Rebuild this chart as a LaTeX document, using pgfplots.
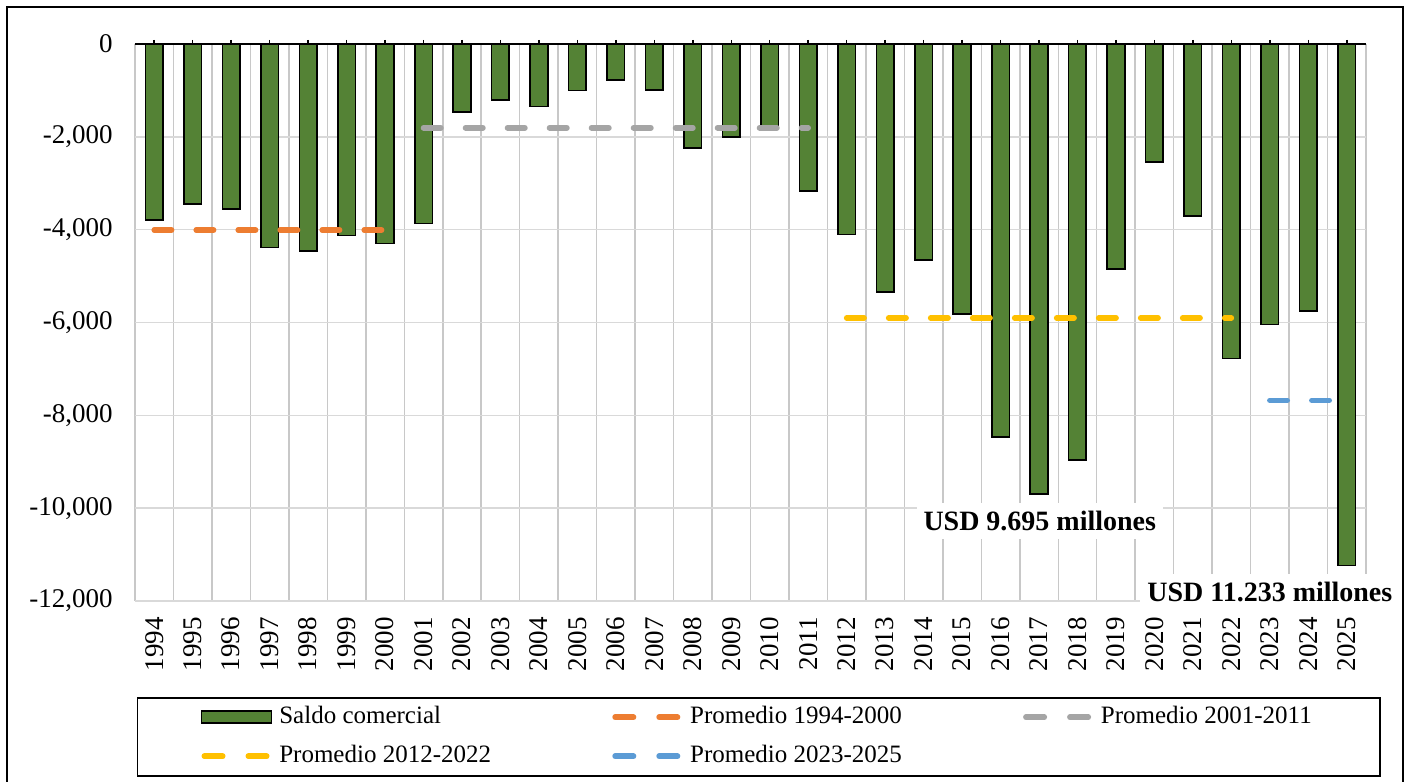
\documentclass[border=0pt]{standalone}
\usepackage{fontspec}
\setmainfont{Liberation Serif}
\usepackage{pgfplots}
\pgfplotsset{compat=1.18}
\definecolor{bargreen}{HTML}{548235}
\definecolor{lorange}{HTML}{ED7D31}
\definecolor{lgrey}{HTML}{A5A5A5}
\definecolor{lyellow}{HTML}{FFC000}
\definecolor{lblue}{HTML}{5B9BD5}
\definecolor{hgrid}{HTML}{D9D9D9}
\definecolor{vgrid}{HTML}{C8C8C8}
\pgfplotstableread{
x y
0 -3791
1 -3446
2 -3554
3 -4388
4 -4460
5 -4122
6 -4294
7 -3870
8 -1467
9 -1201
10 -1345
11 -1000
12 -777
13 -993
14 -2237
15 -2007
16 -1804
17 -3165
18 -4108
19 -5338
20 -4648
21 -5820
22 -8470
23 -9695
24 -8956
25 -4849
26 -2540
27 -3704
28 -6777
29 -6043
30 -5756
31 -11233
}\saldo
\pgfplotsset{avgline/.style={line width=2.8pt, line cap=round, dash pattern=on 8.7pt off 12.3pt,
  legend image code/.code={\draw[#1, line width=2.8pt, line cap=round, dash pattern=on 9.2pt off 12.8pt] (1.4pt,0pt) -- (33.6pt,0pt); \path (37.5pt,0pt);}}}
\begin{document}
\begin{tikzpicture}
\useasboundingbox (0,0) rectangle (704.5pt,391pt);
\draw[line width=1pt] (3.5pt,-5pt) -- (3.5pt,387.5pt) -- (701.5pt,387.5pt) -- (701.5pt,-5pt);
\begin{axis}[
  at={(67.5pt,90.5pt)}, anchor=south west,
  width=615.5pt, height=278.5pt, scale only axis,
  xmin=-0.5, xmax=31.5, ymin=-12000, ymax=0,
  clip=false,
  scaled y ticks=false,
  axis line style={draw=none},
  xtick={0,...,31},
  xticklabels={1994,1995,1996,1997,1998,1999,2000,2001,2002,2003,2004,2005,2006,2007,2008,2009,2010,2011,2012,2013,2014,2015,2016,2017,2018,2019,2020,2021,2022,2023,2024,2025},
  minor xtick={-0.5,0.5,...,31.5},
  xtick pos=upper, xticklabel pos=lower,
  tick align=outside,
  major tick length=2pt, minor tick length=0pt,
  xtick style={draw=black, line width=0.75pt},
  ytick style={draw=none},
  ytick={-12000,-10000,-8000,-6000,-4000,-2000,0},
  yticklabels={{-12,000},{-10,000},{-8,000},{-6,000},{-4,000},{-2,000},{0}},
  ymajorgrids, xminorgrids,
  major grid style={hgrid, line width=0.75pt},
  minor grid style={vgrid, line width=0.75pt},
  tick label style={font=\fontsize{13.5}{15}\selectfont},
  xticklabel style={yshift=-6pt, rotate=90, anchor=east, inner sep=0pt},
  yticklabel style={anchor=east, inner sep=0pt, xshift=-9pt},
  legend columns=3,
  legend style={at={(rel axis cs:0.0016,-0.1724)}, anchor=north west,
    draw=black, line width=0.75pt,
    inner xsep=31.5pt, inner ysep=3.75pt,
    /tikz/column sep=0pt, /tikz/row sep=7.5pt,
    nodes={inner sep=0pt, text height=9pt, text depth=3pt, anchor=west},
    font=\fontsize{12.5}{14}\selectfont},
  legend cell align=left,
]
\addplot[ybar, bar width=8.8pt, fill=bargreen, draw=black, line width=0.8pt,
  legend image code/.code={\draw[fill=bargreen, draw=black, line width=0.8pt] (0pt,-3pt) rectangle (35pt,3pt); \path (37.5pt,0pt);}]
  table[x=x, y=y] {\saldo};
\addlegendentry{\makebox[166.5pt][l]{Saldo comercial}}
\addplot[avgline, color=lorange] coordinates {(0,-4008) (6,-4008)};
\addlegendentry{\makebox[166.5pt][l]{Promedio 1994-2000}}
\addplot[avgline, color=lgrey] coordinates {(7,-1806) (17,-1806)};
\addlegendentry{\makebox[108pt][l]{Promedio 2001-2011}}
\addplot[avgline, color=lyellow] coordinates {(18,-5901) (28,-5901)};
\addlegendentry{\makebox[166.5pt][l]{Promedio 2012-2022}}
\addplot[avgline, color=lblue] coordinates {(29,-7677) (31,-7677)};
\addlegendentry{\makebox[166.5pt][l]{Promedio 2023-2025}}
\draw[black, line width=0.75pt] (rel axis cs:0,1) -- (rel axis cs:1,1);
\node[fill=white, inner xsep=3.5pt, inner ysep=4pt, font=\fontsize{14}{16}\selectfont\bfseries] at (axis cs:23.02,-10277) {USD 9.695 millones};
\node[fill=white, inner xsep=3.5pt, inner ysep=4pt, font=\fontsize{14}{16}\selectfont\bfseries] at (axis cs:29.0,-11806) {USD 11.233 millones};
\end{axis}
\end{tikzpicture}
\end{document}
